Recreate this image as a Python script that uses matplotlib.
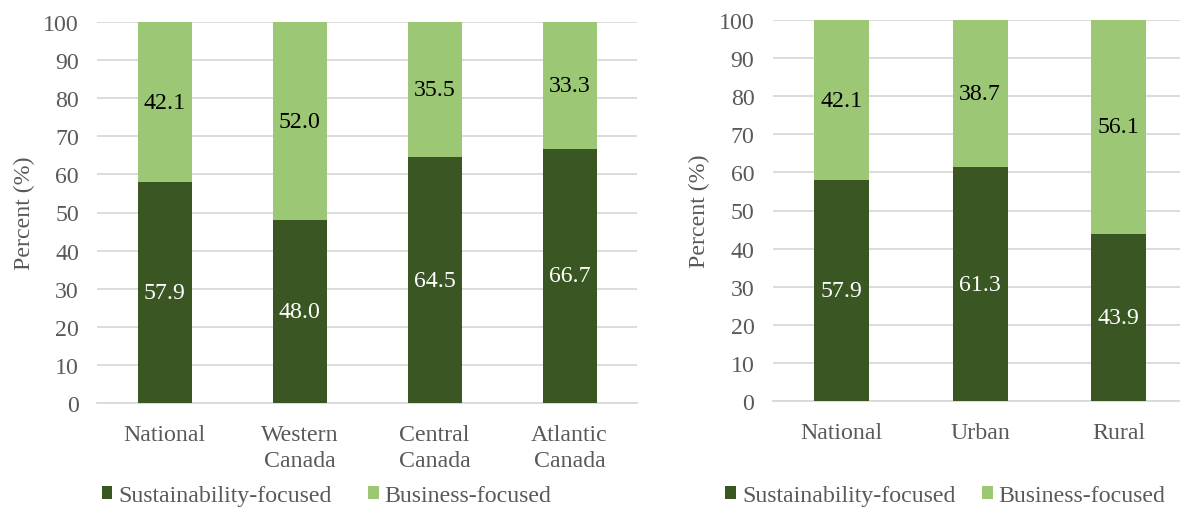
import matplotlib
matplotlib.use("Agg")
import matplotlib.pyplot as plt
from matplotlib.patches import Patch

plt.rcParams['font.family'] = ['Liberation Serif', 'DejaVu Serif']

# Regional breakdown
regions = ["National", "Western\nCanada", "Central\nCanada", "Atlantic\nCanada"]
region_sustain = [57.9, 48.0, 64.5, 66.7]
region_business = [42.1, 52.0, 35.5, 33.3]

# Urban / rural breakdown
areas = ["National", "Urban", "Rural"]
area_sustain = [57.9, 61.3, 43.9]
area_business = [42.1, 38.7, 56.1]

series_names = ["Sustainability-focused", "Business-focused"]
y_ticks = list(range(0, 101, 10))

DARK = "#3A5723"
LIGHT = "#9CC876"
GRID = "#D9D9D9"
TICK = "#595959"
FS = 17.2

W, H = 1180, 510
fig = plt.figure(figsize=(W / 100, H / 100), dpi=100)


def px_axes(x0, y0, x1, y1):
    return fig.add_axes([x0 / W, 1 - y1 / H, (x1 - x0) / W, (y1 - y0) / H])


def draw_panel(ax, cats, sustain, business):
    x = range(len(cats))
    ax.bar(x, sustain, width=0.4, color=DARK, zorder=3)
    ax.bar(x, business, width=0.4, bottom=sustain, color=LIGHT, zorder=3)
    for i, (s, b) in enumerate(zip(sustain, business)):
        ax.text(i, s / 2, f"{s:.1f}", ha="center", va="center",
                color="white", fontsize=FS, zorder=4)
        ax.text(i, s + b / 2, f"{b:.1f}", ha="center", va="center",
                color="black", fontsize=FS, zorder=4)
    ax.set_xlim(-0.5, len(cats) - 0.5)
    ax.set_ylim(0, 100)
    ax.set_yticks(y_ticks)
    ax.yaxis.grid(True, color=GRID, linewidth=1.3, zorder=0)
    ax.set_axisbelow(True)
    for sp in ["top", "right", "left"]:
        ax.spines[sp].set_visible(False)
    ax.spines["bottom"].set_color(GRID)
    ax.spines["bottom"].set_linewidth(1.3)
    ax.set_xticks(list(x))
    ax.set_xticklabels(cats, linespacing=1.32)
    ax.tick_params(axis="both", length=0, labelsize=FS, labelcolor=TICK)
    ax.tick_params(axis="y", pad=13)
    ax.tick_params(axis="x", pad=15)
    ax.set_ylabel("Percent (%)", fontsize=FS, color=TICK, labelpad=6)


ax1 = px_axes(97, 23, 637, 404)
draw_panel(ax1, regions, region_sustain, region_business)

ax2 = px_axes(772.5, 21, 1188, 402)
draw_panel(ax2, areas, area_sustain, area_business)

handles = [Patch(facecolor=DARK), Patch(facecolor=LIGHT)]
legend_kw = dict(loc="center left", ncol=2, frameon=False, fontsize=FS,
                 handlelength=0.46, handleheight=0.46, handletextpad=0.25,
                 borderaxespad=0, borderpad=0, labelcolor=TICK)
fig.legend(handles, series_names, bbox_to_anchor=(101.5 / W, 1 - 497 / H),
           columnspacing=1.5, **legend_kw)
fig.legend(handles, series_names, bbox_to_anchor=(725 / W, 1 - 497 / H),
           columnspacing=1.1, **legend_kw)

fig.savefig("out.png", dpi=100, facecolor="white")
